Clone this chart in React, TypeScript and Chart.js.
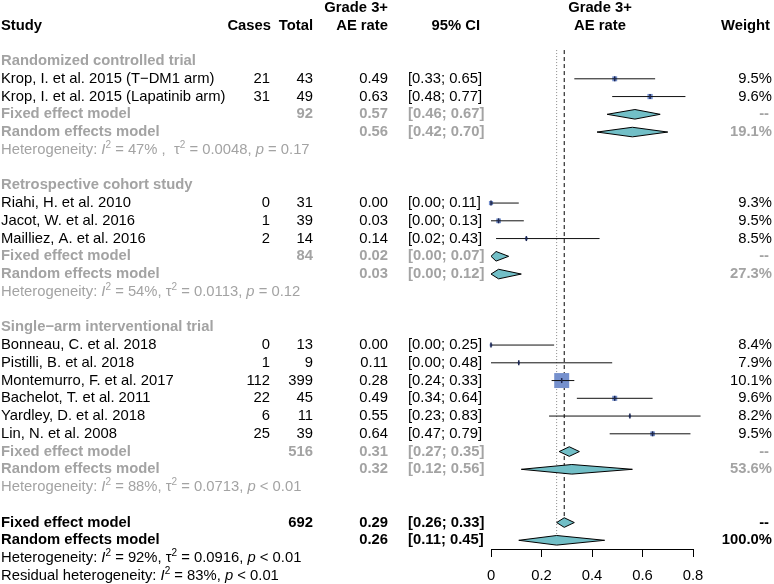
import { useEffect, useRef } from "react";
import { Chart, registerables } from "chart.js";
Chart.register(...registerables);

// ---------- data ----------
const studyNames = [
  "Krop, I. et al. 2015 (T\u2212DM1 arm)",
  "Krop, I. et al. 2015 (Lapatinib arm)",
  "Riahi, H. et al. 2010",
  "Jacot, W. et al. 2016",
  "Mailliez, A. et al. 2016",
  "Bonneau, C. et al. 2018",
  "Pistilli, B. et al. 2018",
  "Montemurro, F. et al. 2017",
  "Bachelot, T. et al. 2011",
  "Yardley, D. et al. 2018",
  "Lin, N. et al. 2008",
];
const studyGroup = [0, 0, 1, 1, 1, 2, 2, 2, 2, 2, 2];
const cases = [21, 31, 0, 1, 2, 0, 1, 112, 22, 6, 25];
const totals = [43, 49, 31, 39, 14, 13, 9, 399, 45, 11, 39];
const rates = [0.49, 0.63, 0.0, 0.03, 0.14, 0.0, 0.11, 0.28, 0.49, 0.55, 0.64];
const ciLow = [0.33, 0.48, 0.0, 0.0, 0.02, 0.0, 0.0, 0.24, 0.34, 0.23, 0.47];
const ciHigh = [0.65, 0.77, 0.11, 0.13, 0.43, 0.25, 0.48, 0.33, 0.64, 0.83, 0.79];
const weights = [9.5, 9.6, 9.3, 9.5, 8.5, 8.4, 7.9, 10.1, 9.6, 8.2, 9.5];

const groupNames = [
  "Randomized controlled trial",
  "Retrospective cohort study",
  "Single\u2212arm interventional trial",
];
const groupTotal = [92, 84, 516];
const groupFixed = [0.57, 0.02, 0.31];
const groupFixedLow = [0.46, 0.0, 0.27];
const groupFixedHigh = [0.67, 0.07, 0.35];
const groupRandom = [0.56, 0.03, 0.32];
const groupRandomLow = [0.42, 0.0, 0.12];
const groupRandomHigh = [0.7, 0.12, 0.56];
const groupWeight = [19.1, 27.3, 53.6];
const groupI2 = ["47%", "54%", "88%"];
const groupI2Sep = [" ,  ", ", ", ", "];
const groupTau2 = ["0.0048", "0.0113", "0.0713"];
const groupP = ["= 0.17", "= 0.12", "< 0.01"];

const overallTotal = 692;
const overallFixed = 0.29;
const overallFixedLow = 0.26;
const overallFixedHigh = 0.33;
const overallRandom = 0.26;
const overallRandomLow = 0.11;
const overallRandomHigh = 0.45;
const overallI2 = "92%";
const overallTau2 = "0.0916";
const overallP = "< 0.01";
const residualI2 = "83%";
const residualP = "< 0.01";

const xTicks = [0, 0.2, 0.4, 0.6, 0.8];

// ---------- style ----------
const FONT = '"Liberation Sans", Arial, Helvetica, sans-serif';
const FS = 14.8;
const GRAY = "#a3a3a3";
const BLACK = "#000000";
const SQUARE = "#7590cd";
const DIAMOND = "#72bfc7";
const DH = 0.27; // diamond half height (rows)

const X_STUDY = 1;
const X_CASES = 270;
const X_TOTAL = 313;
const X_RATE = 388;
const X_CI = 408;
const X_WEIGHT = 772;

type Seg = { t: string; it?: boolean; sup?: boolean };

// ---------- row layout ----------
type Row =
  | { kind: "group"; g: number; r: number }
  | { kind: "study"; i: number; r: number }
  | { kind: "fixed"; g: number; r: number }
  | { kind: "random"; g: number; r: number }
  | { kind: "het"; g: number; r: number };

const rows: Row[] = [];
let rr = 0;
groupNames.forEach((_, g) => {
  rows.push({ kind: "group", g, r: rr++ });
  studyNames.forEach((_, i) => {
    if (studyGroup[i] === g) rows.push({ kind: "study", i, r: rr++ });
  });
  rows.push({ kind: "fixed", g, r: rr++ });
  rows.push({ kind: "random", g, r: rr++ });
  rows.push({ kind: "het", g, r: rr++ });
  rr++;
});
const ROW_OFIXED = rr;
const ROW_ORANDOM = rr + 1;
const ROW_OHET = rr + 2;
const ROW_RESID = rr + 3;

const studyRow = (i: number) => (rows.find((x) => x.kind === "study" && (x as any).i === i) as Row).r;
const groupRow = (kind: string, g: number) => (rows.find((x) => x.kind === kind && (x as any).g === g) as Row).r;

const fmt2 = (v: number) => v.toFixed(2);
const ciText = (lo: number, hi: number) => `[${fmt2(lo)}; ${fmt2(hi)}]`;

function diamond(lo: number, est: number, hi: number, r: number) {
  return [
    { x: lo, y: r },
    { x: est, y: r - DH },
    { x: hi, y: r },
    { x: est, y: r + DH },
    { x: lo, y: r },
  ];
}

function buildDatasets() {
  const ds: any[] = [];
  // reference lines
  ds.push({
    data: [
      { x: overallRandom, y: -0.62 },
      { x: overallRandom, y: ROW_ORANDOM - DH },
    ],
    showLine: true,
    borderColor: "#8a8a8a",
    borderWidth: 1,
    borderDash: [1, 2],
    pointRadius: 0,
    order: 20,
  });
  ds.push({
    data: [
      { x: overallFixed, y: -0.62 },
      { x: overallFixed, y: ROW_OFIXED - DH },
    ],
    showLine: true,
    borderColor: "#000",
    borderWidth: 1,
    borderDash: [4, 3],
    pointRadius: 0,
    order: 19,
  });
  // squares (size from study size)
  ds.push({
    data: studyNames.map((_, i) => ({ x: rates[i], y: studyRow(i) })),
    pointStyle: "rect",
    pointRadius: totals.map((n) => (0.75 * Math.sqrt(n)) / Math.SQRT2),
    backgroundColor: SQUARE,
    borderWidth: 0,
    borderColor: SQUARE,
    showLine: false,
    order: 10,
  });
  // CI lines
  studyNames.forEach((_, i) => {
    ds.push({
      data: [
        { x: ciLow[i], y: studyRow(i) },
        { x: ciHigh[i], y: studyRow(i) },
      ],
      showLine: true,
      borderColor: "#111",
      borderWidth: 1,
      pointRadius: 0,
      order: 5,
    });
  });
  // estimate ticks
  ds.push({
    data: studyNames.map((_, i) => ({ x: rates[i], y: studyRow(i) })),
    pointStyle: "line",
    rotation: 90,
    pointRadius: 2.5,
    borderColor: "#1b2550",
    borderWidth: 1.5,
    showLine: false,
    order: 4,
  });
  // diamonds
  const addDiamond = (lo: number, est: number, hi: number, r: number) =>
    ds.push({
      data: diamond(lo, est, hi, r),
      showLine: true,
      fill: "shape",
      backgroundColor: DIAMOND,
      borderColor: "#000",
      borderWidth: 1,
      pointRadius: 0,
      tension: 0,
      order: 2,
    });
  groupNames.forEach((_, g) => {
    addDiamond(groupFixedLow[g], groupFixed[g], groupFixedHigh[g], groupRow("fixed", g));
    addDiamond(groupRandomLow[g], groupRandom[g], groupRandomHigh[g], groupRow("random", g));
  });
  addDiamond(overallFixedLow, overallFixed, overallFixedHigh, ROW_OFIXED);
  addDiamond(overallRandomLow, overallRandom, overallRandomHigh, ROW_ORANDOM);
  ds.forEach((d) => (d.clip = false));
  return ds;
}

const textPlugin = {
  id: "forestText",
  afterDraw(chart: any) {
    const ctx: CanvasRenderingContext2D = chart.ctx;
    const ys = chart.scales.y;
    const py = (r: number) => ys.getPixelForValue(r);
    ctx.save();
    ctx.textBaseline = "middle";
    const txt = (s: string, x: number, r: number, align: CanvasTextAlign, bold: boolean, color: string) => {
      ctx.font = `${bold ? "bold " : ""}${FS}px ${FONT}`;
      ctx.fillStyle = color;
      ctx.textAlign = align;
      ctx.fillText(s, x, py(r));
    };
    const rich = (segs: Seg[], x: number, r: number, color: string) => {
      let cx = x;
      const y = py(r);
      ctx.textAlign = "left";
      ctx.fillStyle = color;
      segs.forEach((s) => {
        const size = s.sup ? 10 : FS;
        ctx.font = `${s.it ? "italic " : ""}${size}px ${FONT}`;
        ctx.fillText(s.t, cx, s.sup ? y - 5 : y);
        cx += ctx.measureText(s.t).width;
      });
    };
    // headers
    txt("Study", X_STUDY, -2, "left", true, BLACK);
    txt("Cases", X_CASES + 1, -2, "right", true, BLACK);
    txt("Total", X_TOTAL, -2, "right", true, BLACK);
    txt("Grade 3+", X_RATE, -3, "right", true, BLACK);
    txt("AE rate", X_RATE, -2, "right", true, BLACK);
    txt("95% CI", 480, -2, "right", true, BLACK);
    txt("Grade 3+", 600, -3, "center", true, BLACK);
    txt("AE rate", 600, -2, "center", true, BLACK);
    txt("Weight", 770, -2, "right", true, BLACK);

    rows.forEach((row) => {
      const r = row.r;
      if (row.kind === "group") {
        txt(groupNames[row.g], X_STUDY, r, "left", true, GRAY);
      } else if (row.kind === "study") {
        const i = row.i;
        txt(studyNames[i], X_STUDY, r, "left", false, BLACK);
        txt(String(cases[i]), X_CASES, r, "right", false, BLACK);
        txt(String(totals[i]), X_TOTAL, r, "right", false, BLACK);
        txt(fmt2(rates[i]), X_RATE, r, "right", false, BLACK);
        txt(ciText(ciLow[i], ciHigh[i]), X_CI, r, "left", false, BLACK);
        txt(weights[i].toFixed(1) + "%", X_WEIGHT, r, "right", false, BLACK);
      } else if (row.kind === "fixed") {
        const g = row.g;
        txt("Fixed effect model", X_STUDY, r, "left", true, GRAY);
        txt(String(groupTotal[g]), X_TOTAL, r, "right", true, GRAY);
        txt(fmt2(groupFixed[g]), X_RATE, r, "right", true, GRAY);
        txt(ciText(groupFixedLow[g], groupFixedHigh[g]), X_CI, r, "left", true, GRAY);
        txt("--", X_WEIGHT - 3, r, "right", true, GRAY);
      } else if (row.kind === "random") {
        const g = row.g;
        txt("Random effects model", X_STUDY, r, "left", true, GRAY);
        txt(fmt2(groupRandom[g]), X_RATE, r, "right", true, GRAY);
        txt(ciText(groupRandomLow[g], groupRandomHigh[g]), X_CI, r, "left", true, GRAY);
        txt(groupWeight[row.g].toFixed(1) + "%", X_WEIGHT, r, "right", true, GRAY);
      } else if (row.kind === "het") {
        const g = row.g;
        rich(
          [
            { t: "Heterogeneity: " },
            { t: "I", it: true },
            { t: "2", sup: true },
            { t: " = " + groupI2[g] + groupI2Sep[g] + "\u03C4" },
            { t: "2", sup: true },
            { t: " = " + groupTau2[g] + ", " },
            { t: "p", it: true },
            { t: " " + groupP[g] },
          ],
          X_STUDY,
          r,
          GRAY
        );
      }
    });
    // overall
    txt("Fixed effect model", X_STUDY, ROW_OFIXED, "left", true, BLACK);
    txt(String(overallTotal), X_TOTAL, ROW_OFIXED, "right", true, BLACK);
    txt(fmt2(overallFixed), X_RATE, ROW_OFIXED, "right", true, BLACK);
    txt(ciText(overallFixedLow, overallFixedHigh), X_CI, ROW_OFIXED, "left", true, BLACK);
    txt("--", X_WEIGHT - 3, ROW_OFIXED, "right", true, BLACK);
    txt("Random effects model", X_STUDY, ROW_ORANDOM, "left", true, BLACK);
    txt(fmt2(overallRandom), X_RATE, ROW_ORANDOM, "right", true, BLACK);
    txt(ciText(overallRandomLow, overallRandomHigh), X_CI, ROW_ORANDOM, "left", true, BLACK);
    txt("100.0%", X_WEIGHT, ROW_ORANDOM, "right", true, BLACK);
    rich(
      [
        { t: "Heterogeneity: " },
        { t: "I", it: true },
        { t: "2", sup: true },
        { t: " = " + overallI2 + ", \u03C4" },
        { t: "2", sup: true },
        { t: " = " + overallTau2 + ", " },
        { t: "p", it: true },
        { t: " " + overallP },
      ],
      X_STUDY,
      ROW_OHET,
      BLACK
    );
    rich(
      [
        { t: "Residual heterogeneity: " },
        { t: "I", it: true },
        { t: "2", sup: true },
        { t: " = " + residualI2 + ", " },
        { t: "p", it: true },
        { t: " " + residualP },
      ],
      X_STUDY,
      ROW_RESID,
      BLACK
    );
    ctx.restore();
  },
};

export default function App() {
  const ref = useRef<HTMLCanvasElement | null>(null);
  useEffect(() => {
    document.body.style.margin = "0";
    const chart = new Chart(ref.current as HTMLCanvasElement, {
      type: "scatter",
      data: { datasets: buildDatasets() },
      options: {
        animation: false,
        responsive: false,
        events: [],
        layout: { autoPadding: false, padding: { left: 491, right: 81, top: 0, bottom: 0 } },
        plugins: { legend: { display: false }, tooltip: { enabled: false } },
        scales: {
          x: {
            type: "linear",
            min: 0,
            max: 0.8,
            afterBuildTicks: (s: any) => {
              s.ticks = xTicks.map((v) => ({ value: v }));
            },
            afterFit: (s: any) => {
              s.height = 35;
            },
            grid: { display: true, drawOnChartArea: false, drawTicks: true, tickLength: 8, color: "#000" },
            border: { display: true, color: "#000", width: 1 },
            ticks: {
              color: "#000",
              padding: 10,
              font: { size: 14.8, family: FONT },
              callback: (v: any) => String(v),
            },
          },
          y: {
            type: "linear",
            display: false,
            reverse: true,
            min: -3.44,
            max: 27.49,
          },
        },
      },
      plugins: [textPlugin],
    });
    return () => chart.destroy();
  }, []);
  return (
    <div style={{ position: "absolute", left: 0, top: 0, width: 774, height: 584, background: "#fff" }}>
      <canvas ref={ref} width={774} height={584} />
    </div>
  );
}
